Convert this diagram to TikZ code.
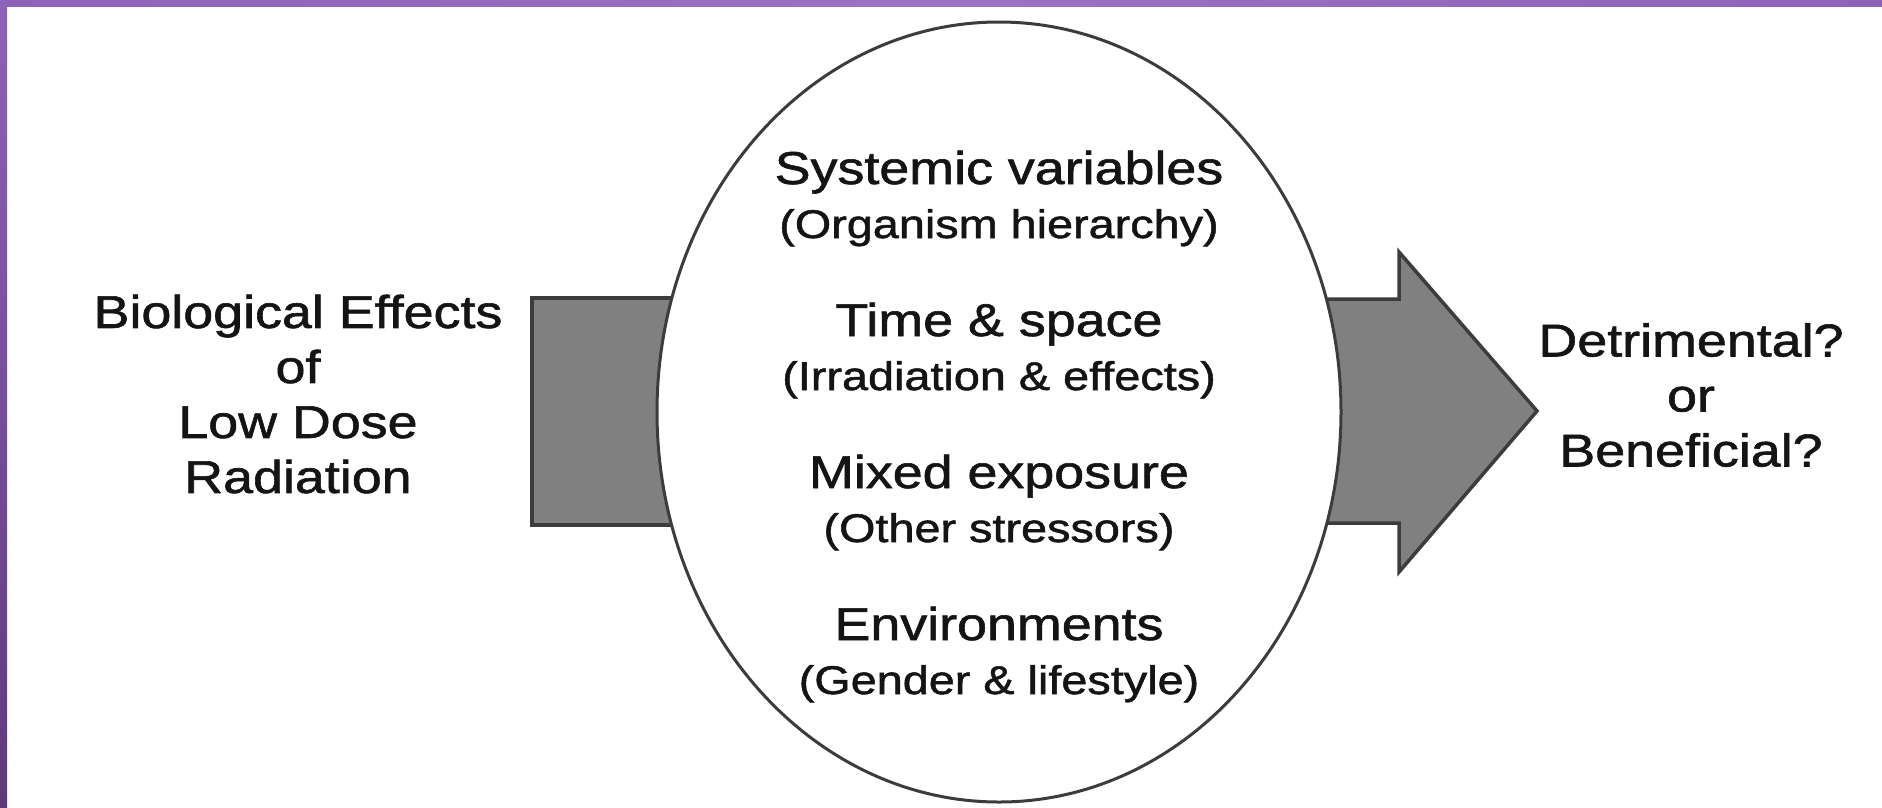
\documentclass[tikz,border=0pt]{standalone}
\usepackage{fontspec}
\setmainfont{Liberation Sans}[FakeStretch=1.17, FakeBold=1.3]
\usetikzlibrary{shapes.geometric,positioning}
\definecolor{barpurpleA}{HTML}{8E62B8}
\definecolor{barpurpleB}{HTML}{9C72C3}
\definecolor{barpurpleC}{HTML}{60397A}
\definecolor{blockfill}{HTML}{808080}
\definecolor{blockline}{HTML}{3C3C3C}
\definecolor{inktext}{HTML}{141414}
\tikzset{
  block/.style={fill=blockfill, draw=blockline, line width=3.5pt, line join=miter},
  lens/.style={ellipse, draw=blockline, fill=white, line width=3pt,
    minimum width=684pt, minimum height=780pt, inner sep=0pt},
  sidetext/.style={align=center, text=inktext, font=\fontsize{46}{55}\selectfont},
  headtext/.style={text=inktext, font=\fontsize{46}{55}\selectfont, anchor=base},
  notetext/.style={text=inktext, font=\fontsize{40}{48}\selectfont, anchor=base}
}
\begin{document}
\begin{tikzpicture}[x=1pt, y=-1pt]
    \useasboundingbox (0,0) rectangle (1882,807);
    \fill[white] (0,0) rectangle (1882,807);
    % purple frame
    \shade[left color=barpurpleA, right color=barpurpleA, middle color=barpurpleB] (0,0) rectangle (1882,6);
    \shade[top color=barpurpleA, bottom color=barpurpleC] (0,0) rectangle (7,807);
    % block arrows behind the lens
    \filldraw[block] (532,298) rectangle (760,525);
    \filldraw[block] (1250,299) -- (1399,299) -- (1399,252) -- (1537,411)
        -- (1399,572) -- (1399,523) -- (1250,523) -- cycle;
    \node[lens] (lens) at (999,412) {};
    % texts
    \node[sidetext] (cause) at (298,394) {Biological Effects\\of\\Low Dose\\Radiation};
    \node[sidetext] (outcome) at (1691,395) {Detrimental?\\or\\Beneficial?};
    \foreach \head/\note [count=\i] in {{Systemic variables}/{(Organism hierarchy)},
        {Time \& space}/{(Irradiation \& effects)}, {Mixed exposure}/{(Other stressors)},
        {Environments}/{(Gender \& lifestyle)}} {
      \node[headtext] (head\i) at (999,32+152*\i) {\head};
      \node[notetext] (note\i) at (999,86+152*\i) {\note};
    }
\end{tikzpicture}
\end{document}
